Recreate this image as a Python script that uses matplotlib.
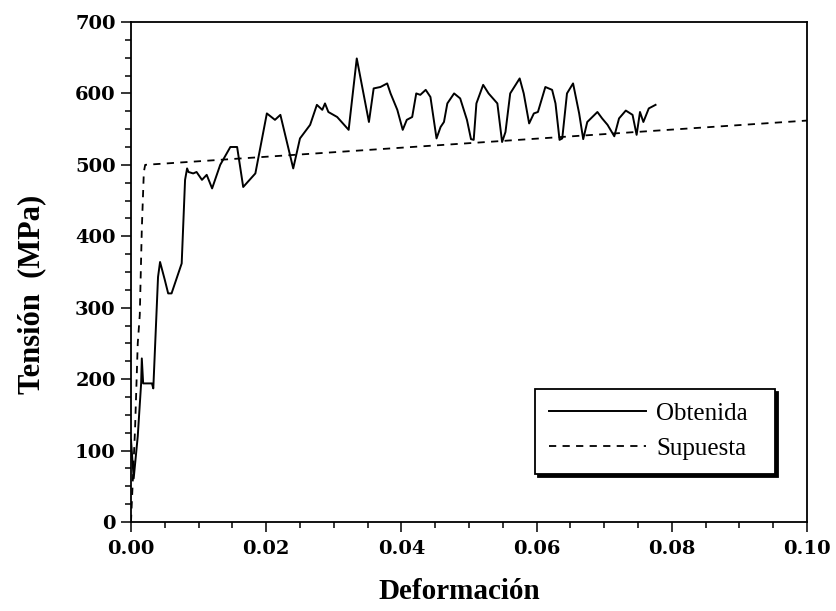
import matplotlib
matplotlib.use("Agg")
import matplotlib.pyplot as plt
from matplotlib.ticker import MultipleLocator

# Curva obtenida (deformación, tensión en MPa)
strain_obt = [0.0000, 0.0004, 0.0010, 0.0015, 0.0016, 0.0018, 0.0031, 0.0033,
              0.0040, 0.0043, 0.0050, 0.0055, 0.0060, 0.0075, 0.0080, 0.0083,
              0.0085, 0.0092, 0.0097, 0.0105, 0.0112, 0.0120, 0.0132, 0.0147,
              0.0157, 0.0166, 0.0184, 0.0201, 0.0213, 0.0221, 0.0240, 0.0250,
              0.0265, 0.0275, 0.0283, 0.0287, 0.0292, 0.0305, 0.0322, 0.0334,
              0.0352, 0.0359, 0.0369, 0.0379, 0.0384, 0.0394, 0.0402, 0.0408,
              0.0416, 0.0422, 0.0428, 0.0436, 0.0443, 0.0452, 0.0458, 0.0463,
              0.0468, 0.0478, 0.0487, 0.0497, 0.0503, 0.0507, 0.0511, 0.0521,
              0.0529, 0.0542, 0.0549, 0.0554, 0.0561, 0.0575, 0.0581, 0.0589,
              0.0596, 0.0602, 0.0613, 0.0623, 0.0628, 0.0634, 0.0638, 0.0645,
              0.0654, 0.0663, 0.0669, 0.0675, 0.0690, 0.0697, 0.0705, 0.0715,
              0.0722, 0.0732, 0.0742, 0.0748, 0.0753, 0.0758, 0.0766, 0.0776]
stress_obt = [115, 61, 120, 194, 229, 194, 194, 187,
              343, 364, 339, 320, 320, 362, 479, 495,
              490, 488, 490, 479, 486, 467, 500, 525,
              525, 469, 488, 572, 563, 570, 495, 537,
              556, 584, 577, 586, 574, 567, 549, 649,
              560, 607, 609, 614, 600, 577, 549, 563,
              567, 600, 598, 605, 595, 537, 553, 560,
              586, 600, 593, 563, 536, 535, 586, 612,
              600, 586, 532, 546, 600, 621, 600, 558,
              572, 574, 609, 605, 586, 535, 537, 600,
              614, 572, 536, 560, 574, 565, 556, 540,
              565, 576, 570, 542, 574, 560, 579, 584]

# Curva supuesta
strain_sup = [0.0000, 0.0006, 0.0010, 0.0013, 0.0016, 0.0019, 0.0021, 0.1000]
stress_sup = [0, 130, 250, 290, 410, 490, 500, 562]

plt.rcParams["font.family"] = ["Liberation Serif", "DejaVu Serif"]

fig = plt.figure(figsize=(8.37, 6.11), dpi=100)
ax = fig.add_axes([0.1565, 0.1457, 0.8076, 0.8183])

ax.plot(strain_obt, stress_obt, color="black", lw=1.4, label="Obtenida")
ax.plot(strain_sup, stress_sup, color="black", lw=1.3, linestyle=(0, (4, 3.5)),
        label="Supuesta")

ax.set_xlim(0, 0.10)
ax.set_ylim(0, 700)
ax.xaxis.set_major_locator(MultipleLocator(0.02))
ax.xaxis.set_minor_locator(MultipleLocator(0.005))
ax.yaxis.set_major_locator(MultipleLocator(100))
ax.yaxis.set_minor_locator(MultipleLocator(25))
ax.xaxis.set_major_formatter(plt.FormatStrFormatter("%.2f"))

ax.tick_params(which="both", direction="out", top=False, right=False, width=1.1)
ax.tick_params(which="major", length=7, pad=4)
ax.tick_params(axis="x", which="major", pad=6)
ax.tick_params(which="minor", length=4)
for lab in ax.get_xticklabels() + ax.get_yticklabels():
    lab.set_fontfamily("DejaVu Serif")
    lab.set_fontweight("bold")
    lab.set_fontsize(14)
for sp in ax.spines.values():
    sp.set_linewidth(1.3)

ax.set_xlabel("Deformación", fontsize=21, fontweight="bold")
ax.xaxis.set_label_coords(0.485, -0.112)
ax.set_ylabel("Tensión  (MPa)", fontsize=22, fontweight="bold")
ax.yaxis.set_label_coords(-0.125, 0.455)

leg = ax.legend(loc="lower left", bbox_to_anchor=(0.598, 0.096, 0.355, 0.2),
                mode="expand", borderaxespad=0, fontsize=18,
                fancybox=False, edgecolor="black", handlelength=3.9,
                borderpad=0.55, labelspacing=0.5, handletextpad=0.4,
                shadow={"facecolor": "black", "edgecolor": "black", "alpha": 1})
leg.get_frame().set_linewidth(1.3)

fig.savefig("out.png", dpi=100)
